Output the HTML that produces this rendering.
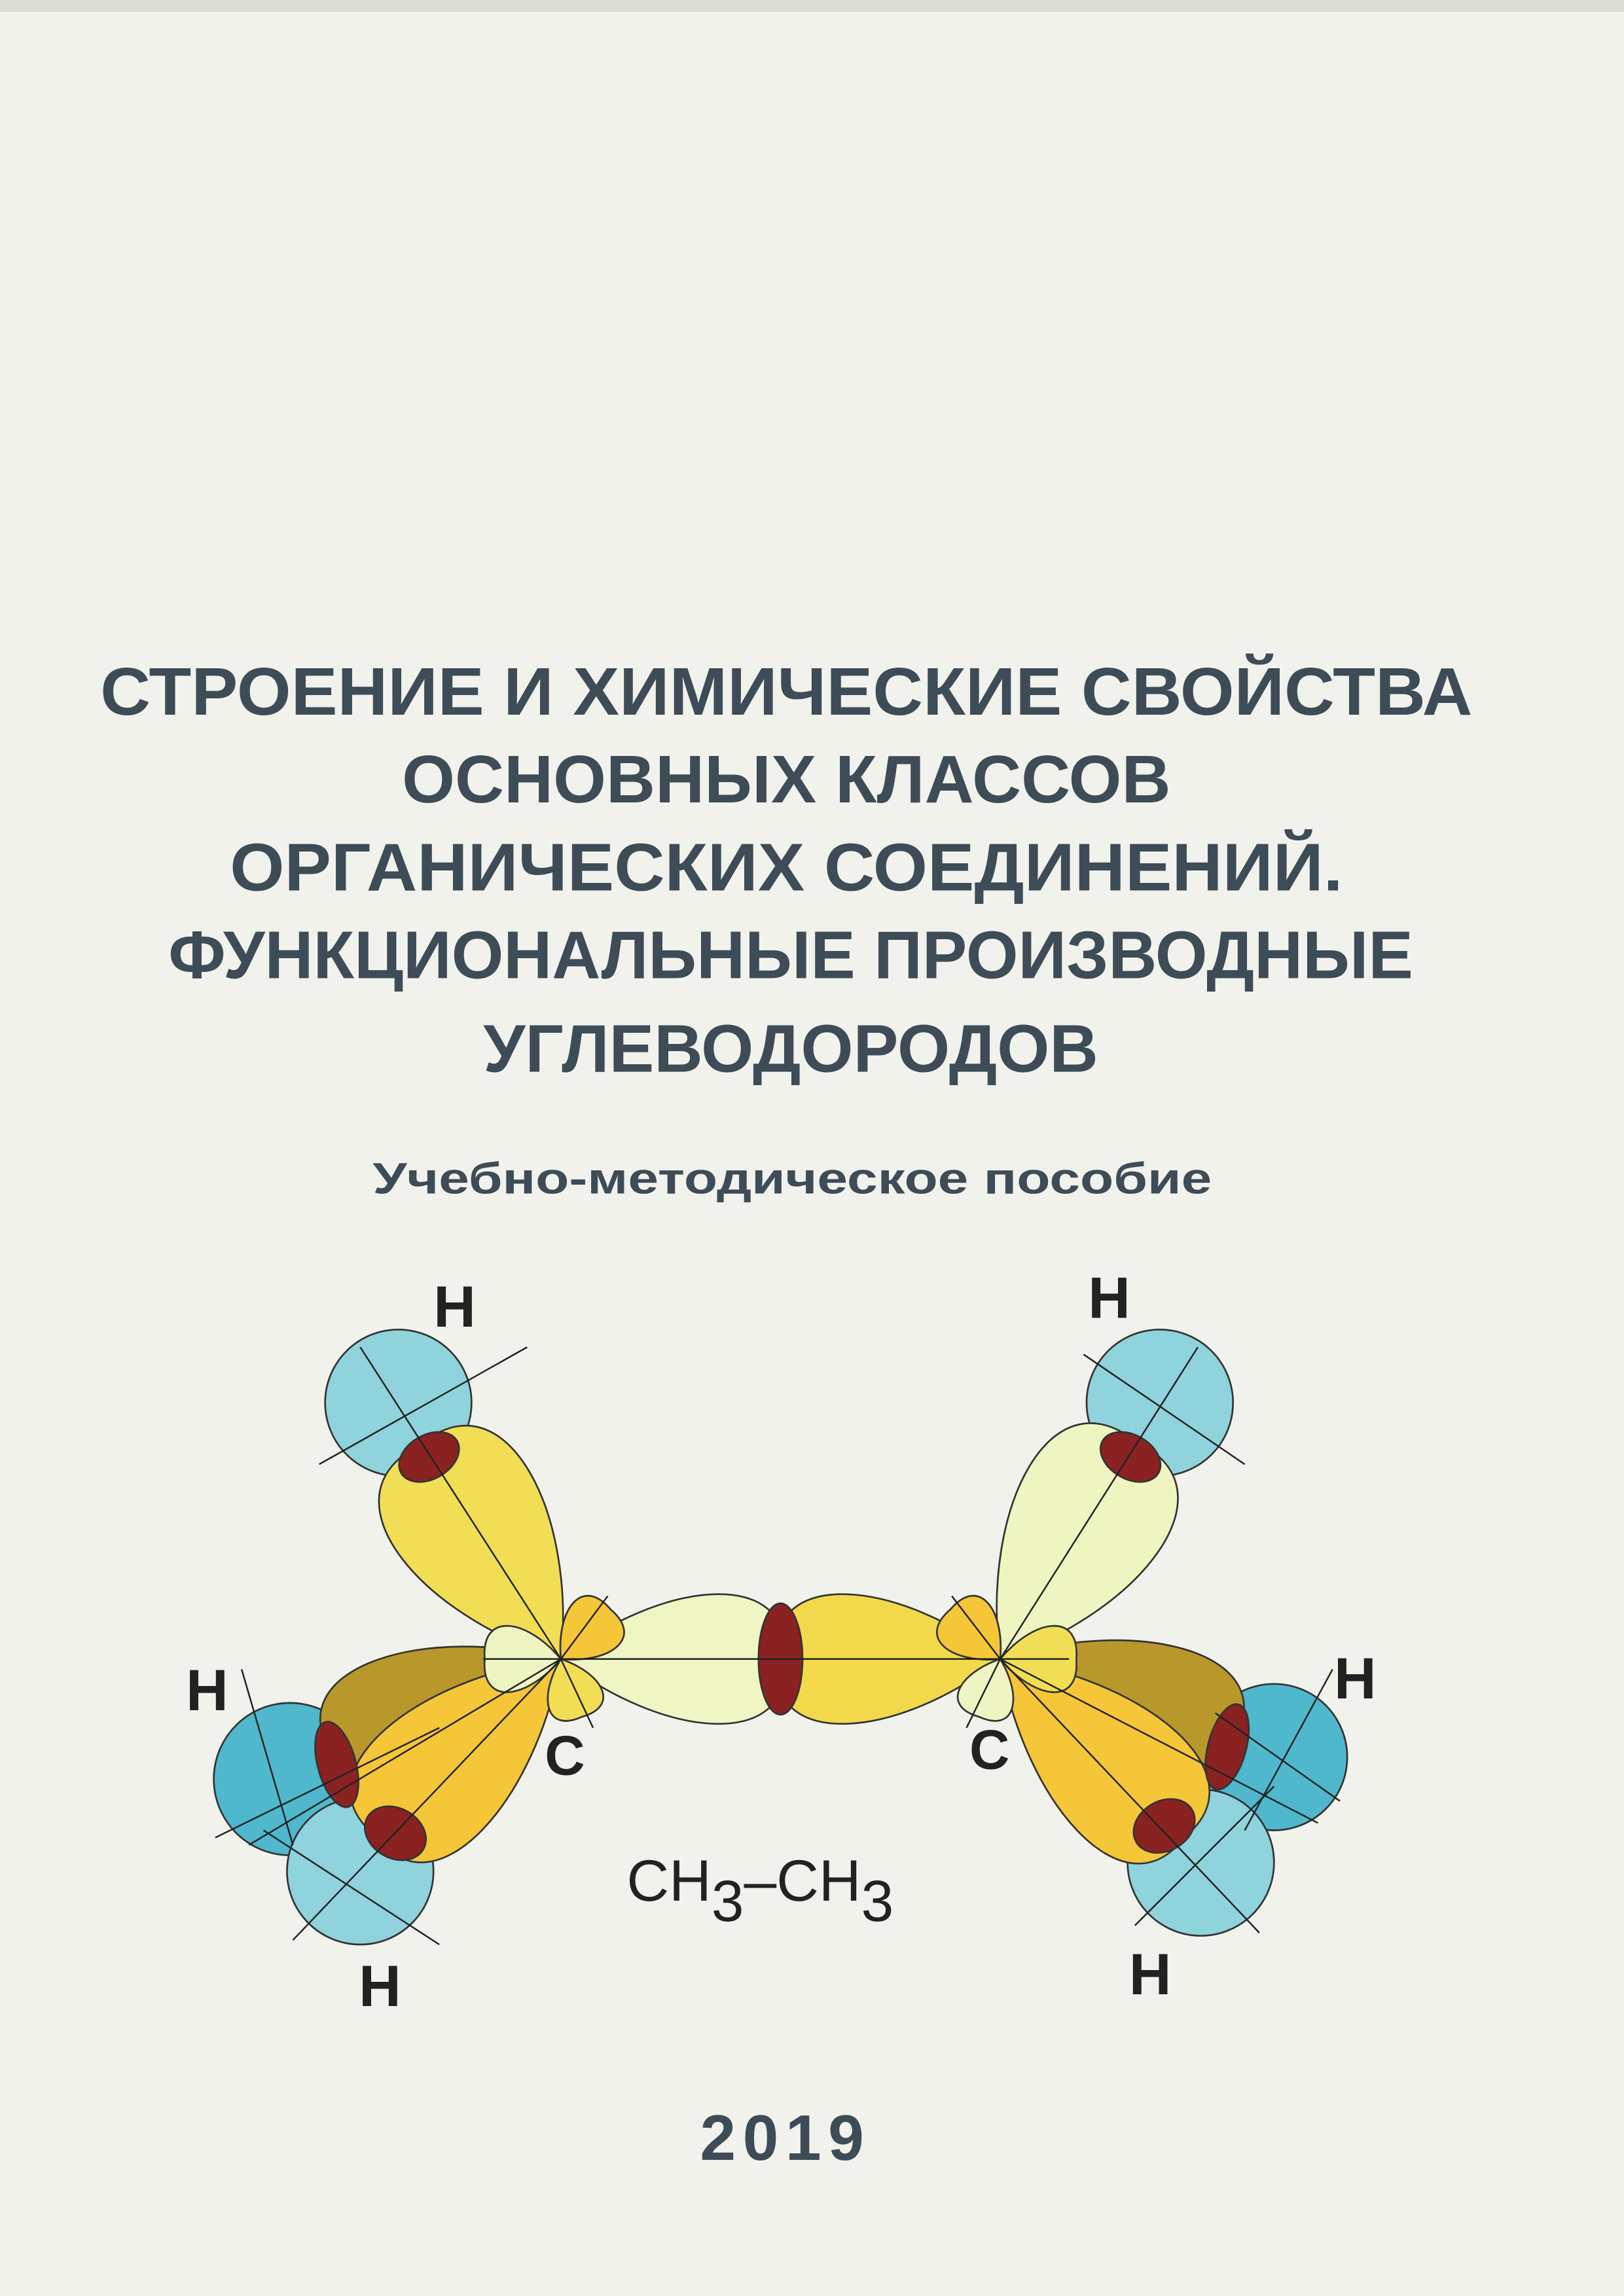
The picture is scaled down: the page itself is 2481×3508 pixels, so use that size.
<!DOCTYPE html>
<html><head><meta charset="utf-8"><style>
html,body{margin:0;padding:0;background:#f2f2ec;}
svg{display:block;}
</style></head><body>
<svg id="s" width="2481" height="3508" viewBox="0 0 1109 1568" xmlns="http://www.w3.org/2000/svg" font-family="Liberation Sans, DejaVu Sans, sans-serif">
<rect width="1109" height="1568" fill="#f2f2ec"/>
<rect width="1109" height="8" fill="#dedcd6"/>
<g fill="#3d4c56" font-weight="bold" text-anchor="middle">
<text x="537" y="488" font-size="46" textLength="937" lengthAdjust="spacingAndGlyphs">СТРОЕНИЕ И ХИМИЧЕСКИЕ СВОЙСТВА</text>
<text x="537" y="548" font-size="46" textLength="525" lengthAdjust="spacingAndGlyphs">ОСНОВНЫХ КЛАССОВ</text>
<text x="537" y="608" font-size="46" textLength="760" lengthAdjust="spacingAndGlyphs">ОРГАНИЧЕСКИХ СОЕДИНЕНИЙ.</text>
<text x="540" y="668" font-size="46" textLength="850" lengthAdjust="spacingAndGlyphs">ФУНКЦИОНАЛЬНЫЕ ПРОИЗВОДНЫЕ</text>
<text x="540" y="732" font-size="46" textLength="420" lengthAdjust="spacingAndGlyphs">УГЛЕВОДОРОДОВ</text>
<text x="541" y="815" font-size="30" textLength="573" lengthAdjust="spacingAndGlyphs">Учебно-методическое пособие</text>
<text x="538" y="1475" font-size="44" textLength="120" lengthAdjust="spacing" letter-spacing="8">2019</text>
</g>

<g stroke="#333" stroke-width="1.2">
<circle cx="272" cy="958" r="50" fill="#8fd3dc"/>
<circle cx="198" cy="1215" r="52" fill="#4fb8cc"/>
<circle cx="246" cy="1278" r="50" fill="#8fd3dc"/>
<circle cx="792" cy="958" r="50" fill="#8fd3dc"/>
<circle cx="870" cy="1200" r="50" fill="#4fb8cc"/>
<circle cx="820" cy="1272" r="50" fill="#8fd3dc"/>
</g>
<g id="lobes" stroke="#333" stroke-width="1.2"></g>

<g stroke="#333" stroke-width="1.2" fill="#8b2222">
<ellipse cx="533" cy="1133" rx="15" ry="38"/>
<ellipse cx="293" cy="995" rx="22" ry="15" transform="rotate(-30 293 995)"/>
<ellipse cx="230" cy="1205" rx="13" ry="30" transform="rotate(-15 230 1205)"/>
<ellipse cx="270" cy="1252" rx="22" ry="17" transform="rotate(30 270 1252)"/>
<ellipse cx="772" cy="995" rx="22" ry="15" transform="rotate(30 772 995)"/>
<ellipse cx="838" cy="1193" rx="13" ry="30" transform="rotate(15 838 1193)"/>
<ellipse cx="795" cy="1247" rx="22" ry="17" transform="rotate(-30 795 1247)"/>
</g>

<g stroke="#222" stroke-width="1.1" fill="none">
<line x1="330" y1="1133" x2="590" y2="1133"/>
<line x1="490" y1="1133" x2="730" y2="1133"/>
<line x1="383" y1="1133" x2="246" y2="920"/>
<line x1="218" y1="1000" x2="360" y2="920"/>
<line x1="383" y1="1133" x2="415" y2="1090"/>
<line x1="383" y1="1133" x2="405" y2="1180"/>
<line x1="383" y1="1133" x2="170" y2="1260"/>
<line x1="147" y1="1255" x2="300" y2="1180"/>
<line x1="165" y1="1140" x2="200" y2="1260"/>
<line x1="383" y1="1133" x2="200" y2="1325"/>
<line x1="180" y1="1250" x2="300" y2="1328"/>
<line x1="683" y1="1133" x2="818" y2="920"/>
<line x1="740" y1="925" x2="850" y2="1000"/>
<line x1="683" y1="1133" x2="650" y2="1090"/>
<line x1="683" y1="1133" x2="660" y2="1180"/>
<line x1="683" y1="1133" x2="900" y2="1245"/>
<line x1="830" y1="1170" x2="915" y2="1230"/>
<line x1="910" y1="1140" x2="850" y2="1250"/>
<line x1="683" y1="1133" x2="860" y2="1320"/>
<line x1="775" y1="1315" x2="870" y2="1220"/>
</g>

<g fill="#222" font-weight="bold">
<text x="296" y="906" font-size="40">H</text>
<text x="743" y="900" font-size="40">H</text>
<text x="127" y="1168" font-size="40">H</text>
<text x="911" y="1160" font-size="40">H</text>
<text x="245" y="1370" font-size="40">H</text>
<text x="771" y="1362" font-size="40">H</text>
<text x="372" y="1212" font-size="38">C</text>
<text x="662" y="1208" font-size="38">C</text>
<text x="428" y="1298" font-size="40" font-weight="normal">CH<tspan dy="14">3</tspan><tspan dy="-14">–CH</tspan><tspan dy="14">3</tspan></text>
</g>
</svg>
<script>
(function(){
var g=document.getElementById('lobes');
var L=[
 [383,1133,158.6,170,90,'#b8982a'],
 [383,1133,136.5,175,95,'#f5c637'],
 [383,1133,-123.5,175,105,'#f1de55'],
 [383,1133,0,152,88,'#f0f5c4'],
 [383,1133,180,52,45,'#eef4c2'],
 [383,1133,-45,48,42,'#f5c637'],
 [383,1133,70,42,38,'#f1de55'],
 [683,1133,18,170,90,'#b8982a'],
 [683,1133,44,175,95,'#f5c637'],
 [683,1133,-58,175,105,'#eef5c0'],
 [683,1133,180,152,88,'#f1d94b'],
 [683,1133,0,52,45,'#f1de55'],
 [683,1133,-135,48,42,'#f5c637'],
 [683,1133,110,42,38,'#eef4c2']
];
var base=[[0.45,-0.62],[1.05,-0.72],[1,0],[1.05,0.72],[0.45,0.62],[0,0]];
L.forEach(function(o){
 var cx=o[0],cy=o[1],a=o[2]*Math.PI/180,len=o[3],w=o[4];
 var c=Math.cos(a),s=Math.sin(a);
 function P(p){var x=p[0]*len,y=p[1]*w;return (cx+x*c-y*s).toFixed(2)+' '+(cy+x*s+y*c).toFixed(2);}
 var d='M'+cx+' '+cy+' C'+P(base[0])+' '+P(base[1])+' '+P(base[2])+' C'+P(base[3])+' '+P(base[4])+' '+P(base[5])+' Z';
 var p=document.createElementNS('http://www.w3.org/2000/svg','path');
 p.setAttribute('d',d);p.setAttribute('fill',o[5]);
 g.appendChild(p);
});
})();
</script>
</body></html>
